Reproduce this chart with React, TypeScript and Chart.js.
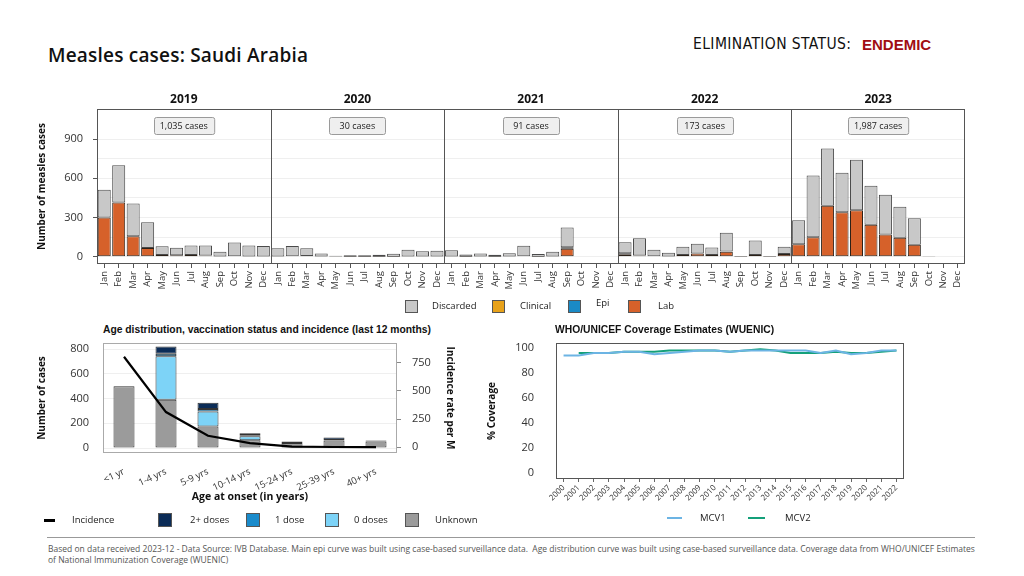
import React, { useEffect, useRef } from 'react';
import { Chart, registerables } from 'chart.js';
Chart.register(...registerables);

const FONT = '"Open Sans", "Noto Sans", sans-serif';
const ARIAL = '"Liberation Sans", Arial, sans-serif';
const NARROW = '"Liberation Sans Narrow", "DejaVu Sans Condensed", "Liberation Sans", sans-serif';

// ---------- Epi curve ----------
const YEARS = ['2019', '2020', '2021', '2022', '2023'];
const MONTHS = ['Jan', 'Feb', 'Mar', 'Apr', 'May', 'Jun', 'Jul', 'Aug', 'Sep', 'Oct', 'Nov', 'Dec'];
const CASE_COUNTS = ['1,035 cases', '30 cases', '91 cases', '173 cases', '1,987 cases'];
const EPI_TICK_LABELS = [0, 300, 600, 900];
const EPI_GRID_VALUES = [0, 150, 300, 450, 600, 750, 900];

const LAB = [
  300, 416, 158, 67, 13, 12, 13, 10, 3, 5, 3, 3, // 2019
  3, 5, 6, 3, 2, 1, 1, 1, 1, 2, 2, 3, // 2020
  2, 1, 2, 1, 3, 4, 1, 3, 61, 0, 0, 0, // 2021
  20, 10, 4, 2, 13, 25, 13, 38, 1, 13, 1, 22, // 2022
  96, 150, 390, 340, 356, 245, 170, 145, 92, 3, 0, 0, // 2023
];
const EPI = [
  0, 0, 0, 0, 0, 0, 0, 0, 0, 0, 0, 0,
  0, 0, 0, 0, 0, 0, 0, 0, 0, 0, 0, 0,
  0, 0, 0, 0, 0, 0, 0, 0, 13, 0, 0, 0,
  8, 0, 0, 0, 0, 0, 0, 3, 0, 0, 0, 0,
  0, 0, 0, 0, 0, 0, 0, 0, 0, 0, 0, 0,
];
const CLINICAL = [
  0, 0, 0, 0, 0, 0, 0, 0, 0, 0, 0, 0,
  0, 0, 0, 0, 0, 0, 0, 0, 0, 0, 0, 0,
  0, 0, 0, 0, 0, 0, 0, 0, 0, 0, 0, 0,
  0, 0, 0, 0, 0, 0, 0, 0, 0, 0, 0, 0,
  0, 0, 0, 0, 0, 0, 0, 0, 0, 0, 0, 0,
];
const DISCARDED = [
  212, 284, 250, 198, 67, 57, 74, 77, 35, 105, 84, 79,
  63, 77, 60, 23, 6, 11, 11, 14, 22, 52, 40, 43,
  49, 17, 24, 14, 25, 80, 20, 35, 151, 0, 0, 0,
  84, 132, 50, 29, 64, 75, 58, 143, 4, 112, 3, 55,
  184, 472, 438, 303, 386, 298, 304, 237, 203, 2, 0, 0,
];

// ---------- Age distribution ----------
const AGE_GROUPS = ['<1 yr', '1-4 yrs', '5-9 yrs', '10-14 yrs', '15-24 yrs', '25-39 yrs', '40+ yrs'];
const AGE_UNKNOWN = [500, 390, 174, 63, 40, 62, 53];
const AGE_ZERO_DOSES = [0, 353, 122, 32, 0, 0, 0];
const AGE_ONE_DOSE = [0, 21, 19, 8, 0, 3, 0];
const AGE_TWO_PLUS = [0, 57, 51, 17, 14, 20, 8];
const INCIDENCE = [803, 313, 103, 38, 6, 3, 2];
const AGE_LEFT_GRID = [0, 100, 200, 300, 400, 500, 600, 700, 800];
const AGE_LEFT_LABELS = [0, 200, 400, 600, 800];
const AGE_RIGHT_TICKS = [0, 250, 500, 750];

// ---------- WUENIC ----------
const WUENIC_YEARS = ['2000', '2001', '2002', '2003', '2004', '2005', '2006', '2007', '2008', '2009', '2010', '2011',
  '2012', '2013', '2014', '2015', '2016', '2017', '2018', '2019', '2020', '2021', '2022'];
const MCV1 = [94, 94, 96, 96, 97, 97, 95, 96, 97, 98, 98, 97, 98, 98, 98, 98, 98, 96, 98, 95, 96, 98, 98];
const MCV2 = [null, 96, 96, 96, 97, 97, 97, 98, 98, 98, 98, 97, 98, 99, 98, 96, 96, 96, 97, 96, 96, 97, 98];
const COVERAGE_TICKS = [0, 20, 40, 60, 80, 100];

const COLORS = {
  lab: '#d6612a', epi: '#1a8ac6', clinical: '#e8a21a', discarded: '#c8c8c8',
  unknown: '#9b9b9b', zero: '#7dd3f7', one: '#1a8bcb', two: '#0b2c57',
  mcv1: '#6cb4e4', mcv2: '#14a07a',
};

const nz = (arr: (number | null)[]) => arr.map((v) => (v === 0 ? null : v));

const epiPanelPlugin = {
  id: 'epiPanels',
  afterDraw(chart: any) {
    const { ctx, chartArea: a, scales } = chart;
    const x = scales.x;
    const step = x.getPixelForValue(1) - x.getPixelForValue(0);
    ctx.save();
    ctx.strokeStyle = '#555';
    ctx.lineWidth = 1;
    ctx.strokeRect(Math.round(a.left) + 0.5, Math.round(a.top) + 0.5, Math.round(a.width) - 1, Math.round(a.height) - 1);
    YEARS.forEach((yr, i) => {
      const left = x.getPixelForValue(i * 12) - step / 2;
      const right = x.getPixelForValue(i * 12 + 11) + step / 2;
      if (i > 0) {
        ctx.beginPath();
        ctx.moveTo(Math.round(left) + 0.5, a.top);
        ctx.lineTo(Math.round(left) + 0.5, a.bottom);
        ctx.stroke();
      }
      const cx = (left + right) / 2;
      ctx.fillStyle = '#111';
      ctx.font = `bold 12px ${FONT}`;
      ctx.textAlign = 'center';
      ctx.textBaseline = 'middle';
      ctx.fillText(yr, cx, a.top - 9);
      ctx.font = `9px ${FONT}`;
      const tw = ctx.measureText(CASE_COUNTS[i]).width;
      const bw = Math.max(56, tw + 12);
      const bx = Math.round(cx - bw / 2) + 0.5;
      const by = Math.round(a.top + 8) + 0.5;
      ctx.fillStyle = '#efefef';
      ctx.strokeStyle = '#9a9a9a';
      ctx.beginPath();
      ctx.roundRect(bx, by, bw, 17, 2);
      ctx.fill();
      ctx.stroke();
      ctx.strokeStyle = '#555';
      ctx.fillStyle = '#222';
      ctx.fillText(CASE_COUNTS[i], cx, by + 8.5);
    });
    ctx.restore();
  },
};

const framePlugin = (color: string) => ({
  id: 'frame',
  afterDraw(chart: any) {
    const { ctx, chartArea: a } = chart;
    ctx.save();
    ctx.strokeStyle = color;
    ctx.lineWidth = 1;
    ctx.strokeRect(Math.round(a.left) + 0.5, Math.round(a.top) + 0.5, Math.round(a.width) - 1, Math.round(a.height) - 1);
    ctx.restore();
  },
});

function EpiChart() {
  const ref = useRef<HTMLCanvasElement>(null);
  useEffect(() => {
    const labels: string[] = [];
    YEARS.forEach(() => MONTHS.forEach((m) => labels.push(m)));
    const base = { borderWidth: 1, borderSkipped: false as any, barPercentage: 0.9, categoryPercentage: 1 };
    const chart = new Chart(ref.current!, {
      type: 'bar',
      data: {
        labels,
        datasets: [
          { label: 'Lab', data: nz(LAB), backgroundColor: COLORS.lab, borderColor: '#2b2118', ...base },
          { label: 'Epi', data: nz(EPI), backgroundColor: COLORS.epi, borderColor: '#222', ...base },
          { label: 'Clinical', data: nz(CLINICAL), backgroundColor: COLORS.clinical, borderColor: '#222', ...base },
          { label: 'Discarded', data: nz(DISCARDED), backgroundColor: COLORS.discarded, borderColor: '#4a4a4a', ...base },
        ],
      },
      options: {
        responsive: false,
        animation: false,
        layout: { padding: { left: 30, right: 59, top: 29, bottom: 0 } },
        plugins: { legend: { display: false }, tooltip: { enabled: false } },
        scales: {
          x: {
            stacked: true,
            grid: { display: true, drawOnChartArea: false, offset: false, tickLength: 4, tickColor: '#555' },
            border: { display: false },
            ticks: { autoSkip: false, maxRotation: 90, minRotation: 90, padding: 3, color: '#333', font: { family: FONT, size: 9.5 } },
            afterFit: (s: any) => { s.height = 46; },
          },
          y: {
            stacked: true,
            min: -55,
            max: 1130,
            afterBuildTicks: (s: any) => { s.ticks = EPI_GRID_VALUES.map((v) => ({ value: v })); },
            ticks: {
              callback: (v: any) => (EPI_TICK_LABELS.includes(v) ? String(v) : ''),
              color: '#333', padding: 10, font: { family: FONT, size: 11 },
            },
            grid: {
              color: '#efefef', tickLength: 4,
              tickColor: (c: any) => (EPI_TICK_LABELS.includes(c.tick?.value) ? '#555' : 'rgba(0,0,0,0)'),
            },
            border: { display: false },
            title: { display: true, text: 'Number of measles cases', color: '#111', font: { family: FONT, size: 10, weight: 'bold' }, padding: { top: 6, bottom: 0 } },
            afterFit: (s: any) => { s.width = 67; },
          },
        },
      } as any,
      plugins: [epiPanelPlugin],
    });
    return () => chart.destroy();
  }, []);
  return <canvas ref={ref} width={1024} height={230} style={{ position: 'absolute', left: 0, top: 80 }} />;
}

function AgeChart() {
  const ref = useRef<HTMLCanvasElement>(null);
  useEffect(() => {
    const base = { borderWidth: 1, borderColor: '#333', borderSkipped: false as any, barPercentage: 0.5, categoryPercentage: 1, yAxisID: 'y', order: 1 };
    const chart = new Chart(ref.current!, {
      type: 'bar',
      data: {
        labels: AGE_GROUPS,
        datasets: [
          { type: 'line', label: 'Incidence', data: INCIDENCE, yAxisID: 'y1', borderColor: '#000', borderWidth: 2.2, pointRadius: 0, tension: 0, order: 0 } as any,
          { label: 'Unknown', data: nz(AGE_UNKNOWN), backgroundColor: COLORS.unknown, ...base },
          { label: '0 doses', data: nz(AGE_ZERO_DOSES), backgroundColor: COLORS.zero, ...base },
          { label: '1 dose', data: nz(AGE_ONE_DOSE), backgroundColor: COLORS.one, ...base },
          { label: '2+ doses', data: nz(AGE_TWO_PLUS), backgroundColor: COLORS.two, ...base },
        ],
      },
      options: {
        responsive: false,
        animation: false,
        layout: { padding: { left: 0, right: 0, top: 25, bottom: 0 } },
        plugins: { legend: { display: false }, tooltip: { enabled: false } },
        scales: {
          x: {
            stacked: true,
            grid: { display: false },
            border: { display: false },
            ticks: { autoSkip: false, maxRotation: 25, minRotation: 25, padding: 5, color: '#333', font: { family: FONT, size: 9.5 } },
            title: { display: true, text: 'Age at onset (in years)', color: '#111', font: { family: FONT, size: 10.5, weight: 'bold' }, padding: { top: 0, bottom: 3 } },
            afterFit: (s: any) => { s.height = 53; },
          },
          y: {
            stacked: true,
            position: 'left',
            min: -40,
            max: 850,
            afterBuildTicks: (s: any) => { s.ticks = AGE_LEFT_GRID.map((v) => ({ value: v })); },
            ticks: { callback: (v: any) => (AGE_LEFT_LABELS.includes(v) ? String(v) : ''), color: '#333', padding: 14, font: { family: FONT, size: 11 } },
            grid: { color: '#efefef', drawTicks: false },
            border: { display: false },
            title: { display: true, text: 'Number of cases', color: '#111', font: { family: FONT, size: 10, weight: 'bold' }, padding: { top: 6, bottom: 0 } },
            afterFit: (s: any) => { s.width = 73; },
          },
          y1: {
            position: 'right',
            min: -50,
            max: 925,
            afterBuildTicks: (s: any) => { s.ticks = AGE_RIGHT_TICKS.map((v) => ({ value: v })); },
            ticks: { color: '#333', padding: 11, font: { family: FONT, size: 11 } },
            grid: { drawOnChartArea: false, tickLength: 4, tickColor: '#888' },
            border: { display: false },
            title: { display: true, text: 'Incidence rate per M', color: '#111', font: { family: FONT, size: 10, weight: 'bold' }, padding: { top: 6, bottom: 0 } },
            afterFit: (s: any) => { s.width = 65; },
          },
        },
      } as any,
      plugins: [framePlugin('#aaaaaa')],
    });
    return () => chart.destroy();
  }, []);
  return <canvas ref={ref} width={432} height={188} style={{ position: 'absolute', left: 30, top: 318 }} />;
}

function CoverageChart() {
  const ref = useRef<HTMLCanvasElement>(null);
  useEffect(() => {
    const chart = new Chart(ref.current!, {
      type: 'line',
      data: {
        labels: WUENIC_YEARS,
        datasets: [
          { label: 'MCV1', data: MCV1, borderColor: COLORS.mcv1, borderWidth: 2, pointRadius: 0, tension: 0 },
          { label: 'MCV2', data: MCV2, borderColor: COLORS.mcv2, borderWidth: 2, pointRadius: 0, tension: 0 },
        ],
      },
      options: {
        responsive: false,
        animation: false,
        layout: { padding: { left: 0, right: 16, top: 25, bottom: 0 } },
        plugins: { legend: { display: false }, tooltip: { enabled: false } },
        scales: {
          x: {
            offset: true,
            grid: { display: true, drawOnChartArea: false, offset: false, tickLength: 3, tickColor: '#666' },
            border: { display: false },
            ticks: { autoSkip: false, maxRotation: 45, minRotation: 45, padding: 1, color: '#333', font: { family: FONT, size: 8 } },
            afterFit: (s: any) => { s.height = 29; },
          },
          y: {
            min: -5,
            max: 104,
            afterBuildTicks: (s: any) => { s.ticks = COVERAGE_TICKS.map((v) => ({ value: v })); },
            ticks: { color: '#333', padding: 14, font: { family: FONT, size: 11 } },
            grid: { display: false },
            border: { display: false },
            title: { display: true, text: '% Coverage', color: '#111', font: { family: FONT, size: 10, weight: 'bold' }, padding: { top: 6, bottom: 0 } },
            afterFit: (s: any) => { s.width = 76; },
          },
        },
      } as any,
      plugins: [framePlugin('#555555')],
    });
    return () => chart.destroy();
  }, []);
  return <canvas ref={ref} width={440} height={190} style={{ position: 'absolute', left: 480, top: 318 }} />;
}

const txt = (left: number, top: number, size: number, extra: React.CSSProperties = {}): React.CSSProperties => ({
  position: 'absolute', left, top, fontSize: size, lineHeight: `${size + 4}px`, whiteSpace: 'nowrap', fontFamily: FONT, color: '#222', ...extra,
});

function Box({ left, top, color, size = 13 }: { left: number; top: number; color: string; size?: number }) {
  return <div style={{ position: 'absolute', left, top, width: size, height: size, background: color, border: '1px solid #555', boxSizing: 'border-box' }} />;
}

export default function App() {
  return (
    <div style={{ position: 'absolute', left: 0, top: 0, width: 1024, height: 576, background: '#fff', overflow: 'hidden' }}>
      <div style={txt(48, 44, 19, { fontWeight: 600, color: '#111', letterSpacing: 0.2 })}>Measles cases: Saudi Arabia</div>
      <div style={txt(693, 35, 15.5, { fontFamily: NARROW, color: '#111', letterSpacing: 0.4 })}>ELIMINATION STATUS:</div>
      <div style={txt(862, 35, 15, { fontFamily: ARIAL, fontWeight: 700, color: '#a10d12' })}>ENDEMIC</div>

      <EpiChart />

      {/* epi legend */}
      <Box left={405} top={300} color={COLORS.discarded} />
      <div style={txt(432, 299, 9.5)}>Discarded</div>
      <Box left={492} top={300} color={COLORS.clinical} />
      <div style={txt(520, 299, 9.5)}>Clinical</div>
      <Box left={568} top={300} color={COLORS.epi} />
      <div style={txt(596, 296, 9.5)}>Epi</div>
      <Box left={628} top={300} color={COLORS.lab} />
      <div style={txt(658, 299, 9.5)}>Lab</div>

      <div style={txt(103, 323, 10.3, { fontFamily: ARIAL, fontWeight: 700, color: '#111' })}>Age distribution, vaccination status and incidence (last 12 months)</div>
      <div style={txt(555, 323, 10.3, { fontFamily: ARIAL, fontWeight: 700, color: '#111' })}>WHO/UNICEF Coverage Estimates (WUENIC)</div>

      <AgeChart />
      <CoverageChart />

      {/* age legend */}
      <div style={{ position: 'absolute', left: 44, top: 519, width: 11, height: 3, background: '#000' }} />
      <div style={txt(72, 513, 9.5)}>Incidence</div>
      <Box left={158} top={513} color={COLORS.two} size={14} />
      <div style={txt(190, 513, 9.5)}>2+ doses</div>
      <Box left={246} top={513} color={COLORS.one} size={14} />
      <div style={txt(275, 513, 9.5)}>1 dose</div>
      <Box left={325} top={513} color={COLORS.zero} size={14} />
      <div style={txt(354, 513, 9.5)}>0 doses</div>
      <Box left={405} top={513} color={COLORS.unknown} size={14} />
      <div style={txt(435, 513, 9.5)}>Unknown</div>

      {/* coverage legend */}
      <div style={{ position: 'absolute', left: 667, top: 517, width: 15, height: 2, background: COLORS.mcv1 }} />
      <div style={txt(700, 511, 9.5)}>MCV1</div>
      <div style={{ position: 'absolute', left: 748, top: 517, width: 17, height: 2, background: COLORS.mcv2 }} />
      <div style={txt(785, 511, 9.5)}>MCV2</div>

      <div style={{ position: 'absolute', left: 47, top: 537, width: 928, height: 1, background: '#999' }} />
      <div style={{ position: 'absolute', left: 48, top: 543, fontSize: 8.5, lineHeight: '11px', fontFamily: FONT, color: '#555', whiteSpace: 'nowrap' }}>
        Based on data received 2023-12 - Data Source: IVB Database. Main epi curve was built using case-based surveillance data.&nbsp; Age distribution curve was built using case-based surveillance data. Coverage data from WHO/UNICEF Estimates
        <br />
        of National Immunization Coverage (WUENIC)
      </div>
    </div>
  );
}
